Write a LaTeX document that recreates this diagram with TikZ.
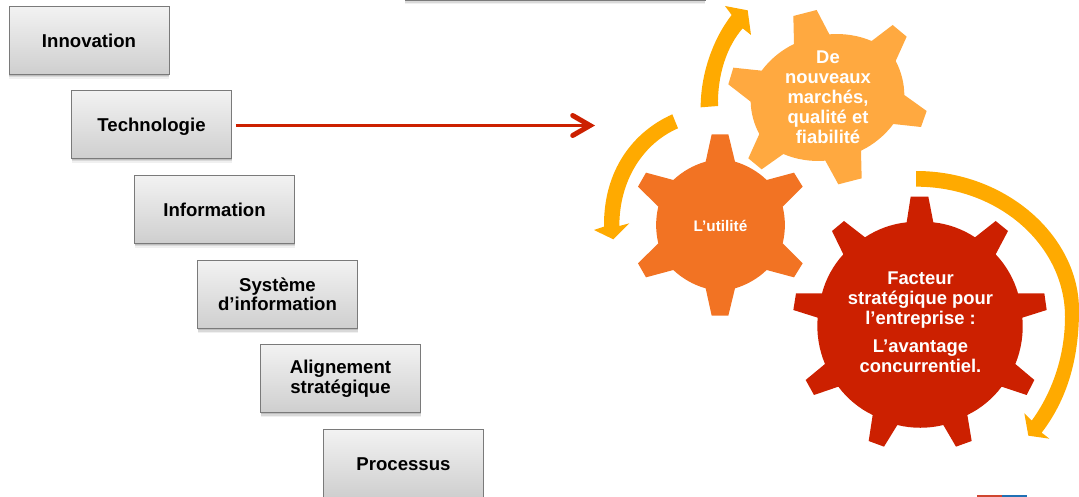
\documentclass[tikz,border=0pt]{standalone}
\usepackage{fontspec}
\setmainfont{Liberation Sans}
\usetikzlibrary{shadows}
\definecolor{gearlight}{HTML}{FFA940}
\definecolor{gearorange}{HTML}{F27323}
\definecolor{gearred}{HTML}{CC2000}
\definecolor{arrowamber}{HTML}{FFAA00}
\definecolor{logored}{HTML}{CF4630}
\definecolor{logoblue}{HTML}{2070B4}
\tikzset{
  stepbox/.style={rectangle,draw=black!52,line width=0.9pt,top color=black!5,bottom color=black!19,
    minimum width=160pt,minimum height=68pt,inner sep=0pt,align=center,
    font=\fontsize{18.6}{19.5}\selectfont\bfseries,text=black,
    drop shadow={opacity=.12,shadow xshift=0pt,shadow yshift=-4.5pt},
    drop shadow={opacity=.2,shadow xshift=0pt,shadow yshift=-3pt},
    drop shadow={opacity=.3,shadow xshift=0pt,shadow yshift=-1.5pt}},
  oneline/.style={text height=18pt,text depth=4pt},
  geartext/.style={inner sep=0pt,align=center,text=white,font=\fontsize{18.4}{20}\selectfont\bfseries},
  arc1/.style={bend left=14,looseness=0.85},
  zoomA/.style={shift={(590,0)},x=0.33333pt,y=-0.33333pt},
  zoomB/.style={shift={(780,160)},x=0.33333pt,y=-0.33333pt},
  zoomC/.style={shift={(590,120)},x=0.33333pt,y=-0.33333pt},
}
\begin{document}
\begin{tikzpicture}[x=1pt,y=-1pt]
\useasboundingbox (0,0) rectangle (1079,497);
\clip (0,0) rectangle (1079,497);
% boxes
\node[stepbox,minimum width=300pt] (top) at (555,-34) {};
\node[stepbox,oneline] (innov) at (89,40.5) {Innovation};
\node[stepbox,oneline] (tech) at (151.5,124.5) {Technologie};
\node[stepbox,oneline] (info) at (214.5,209.5) {Information};
\node[stepbox] (sys) at (277.5,294.5) {Système\\d’information};
\node[stepbox] (align) at (340.5,378.5) {Alignement\\stratégique};
\node[stepbox,oneline] (proc) at (403.5,463.5) {Processus};
% logo strip
\fill[logored] (977,494.5) rectangle (1002,497);
\fill[logoblue] (1002,494.5) rectangle (1027,497);
% connector
\coordinate (headend) at (590,125.5);
\coordinate (barbup) at (572.7,115.5);
\coordinate (barbdown) at (572.7,135.5);
\draw[gearred,line width=2.6pt,shorten <=4pt] (tech.east |- headend) -- (headend);
\draw[gearred,line width=5pt,line cap=round,line join=miter] (barbup) -- (headend) -- (barbdown);
% light gear
\begin{scope}[zoomA]
\fill[gearlight] (610,48) -- (680,30) -- (718,103) to[arc1] (845,123) -- (908,75) -- (950,110) -- (917,183) to[arc1] (943,285) -- (1010,333) -- (993,381) -- (910,372) to[arc1] (813,452) -- (815,535) -- (745,553) -- (706,482) to[arc1] (580,462) -- (515,508) -- (475,475) -- (508,402) to[arc1] (482,305) -- (415,253) -- (430,203) -- (515,212) to[arc1] (612,132) -- cycle;
% top arrow
\fill[arrowamber] (332,322) .. controls (332,220) and (370,115) .. (425,45) -- (405,18) -- (473,31) -- (483,105) -- (458,85) .. controls (410,140) and (382,225) .. (384,318) -- cycle;
% left arrow
\fill[arrowamber] (247,343) .. controls (130,395) and (40,510) .. (42,680) -- (12,690) -- (70,718) -- (118,670) -- (88,678) .. controls (88,540) and (160,430) .. (264,385) -- cycle;
\end{scope}
% orange gear
\begin{scope}[zoomC]
\fill[gearorange] (365,43) -- (415,43) -- (435,125) to[arc1] (530,180) -- (612,158) -- (638,200) -- (578,260) to[arc1] (578,370) -- (638,430) -- (612,472) -- (530,450) to[arc1] (435,505) -- (415,587) -- (365,587) -- (347,505) to[arc1] (250,450) -- (168,472) -- (144,430) -- (205,370) to[arc1] (205,260) -- (144,200) -- (168,158) -- (250,180) to[arc1] (347,125) -- cycle;
\end{scope}
% red gear
\begin{scope}[zoomB]
\fill[gearred] (392,110) -- (445,110) -- (460,187) to[arc1] (585,232) -- (647,183) -- (684,213) -- (647,283) to[arc1] (714,400) -- (793,400) -- (800,450) -- (727,473) to[arc1] (706,612) -- (763,660) -- (740,705) -- (665,680) to[arc1] (562,765) -- (575,843) -- (528,860) -- (490,795) to[arc1] (352,795) -- (312,860) -- (266,843) -- (278,765) to[arc1] (175,680) -- (102,705) -- (77,660) -- (135,612) to[arc1] (113,473) -- (40,450) -- (48,400) -- (126,400) to[arc1] (190,283) -- (156,213) -- (192,183) -- (255,232) to[arc1] (380,187) -- cycle;
% right arrow
\fill[arrowamber] (408,33) .. controls (680,33) and (897,230) .. (897,450) .. controls (897,600) and (860,720) .. (785,818) -- (808,836) -- (745,827) -- (733,760) -- (755,782) .. controls (815,700) and (855,590) .. (855,470) .. controls (855,260) and (660,80) .. (408,80) -- cycle;
\end{scope}
% gear labels
\node[geartext] (lab1) at (828,97.5) {De\\nouveaux\\marchés,\\qualité et\\fiabilité};
\node[geartext,font=\fontsize{15.3}{18}\selectfont\bfseries] (lab2) at (720.5,226) {L’utilité};
\node[geartext] (lab3) at (920.5,322.5) {Facteur\\stratégique pour\\l’entreprise :\\[8pt]L’avantage\\concurrentiel.};
\end{tikzpicture}
\end{document}
